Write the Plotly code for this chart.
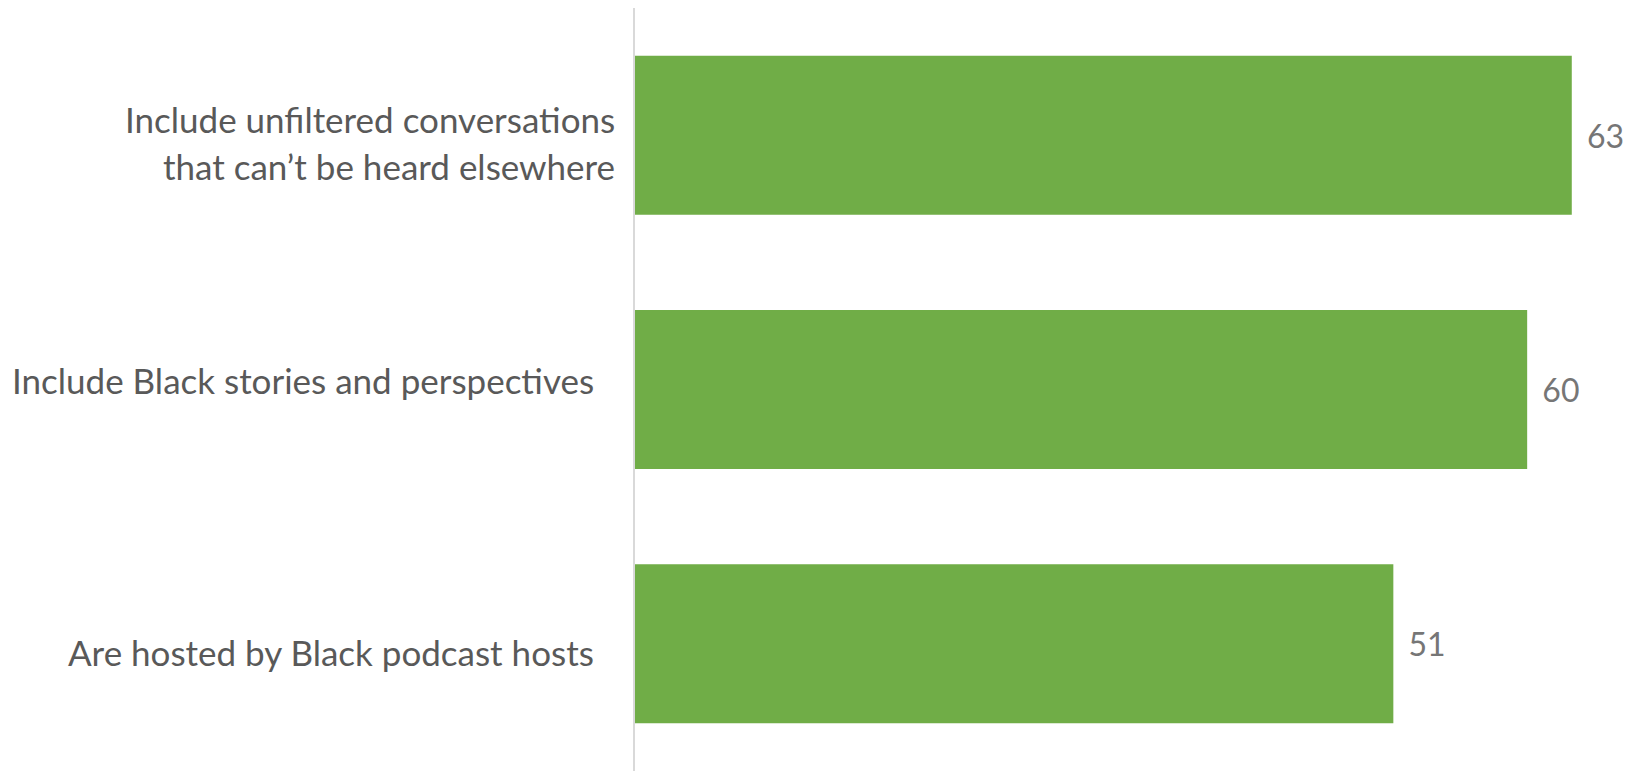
import plotly.graph_objects as go

categories = [
    "Include unfiltered conversations<br>that can’t be heard elsewhere",
    "Include Black stories and perspectives",
    "Are hosted by Black podcast hosts",
]
values = [63, 60, 51]
value_labels = ["63", "60", "51"]

FONT = "Lato"
LABEL_SIZE = 35
VALUE_SIZE = 32

fig = go.Figure(
    go.Bar(
        x=values,
        y=categories,
        orientation="h",
        marker=dict(color="#70AD47", line=dict(width=0)),
        width=0.625,
        text=["\u00a0\u2009" + v for v in value_labels],
        textposition="outside",
        textfont=dict(family=FONT, size=VALUE_SIZE, color="#767676"),
        cliponaxis=False,
    )
)

# category labels drawn as annotations (one per text line) to match the original placement
label_xshift = [-18, -39, -39]
line_yshift = [[16, -31], [10], [-8]]
for cat, xs, yss in zip(categories, label_xshift, line_yshift):
    for line, ys in zip(cat.split("<br>"), yss):
        fig.add_annotation(
            x=0, y=cat, xref="x", yref="y",
            text=line, showarrow=False,
            xanchor="right", yanchor="middle",
            xshift=xs, yshift=ys,
            font=dict(family=FONT, size=LABEL_SIZE, color="#595959"),
        )

fig.update_layout(
    width=1624,
    height=763,
    margin=dict(l=627, r=0, t=0, b=0),
    plot_bgcolor="white",
    paper_bgcolor="white",
    showlegend=False,
)
fig.update_xaxes(range=[0, 67.05], visible=False, showgrid=False, zeroline=False)
fig.update_yaxes(
    autorange="reversed",
    showgrid=False,
    zeroline=False,
    showline=True,
    linecolor="#D9D9D9",
    linewidth=2,
    ticks="",
    showticklabels=False,
)

fig.write_html("out.html")
